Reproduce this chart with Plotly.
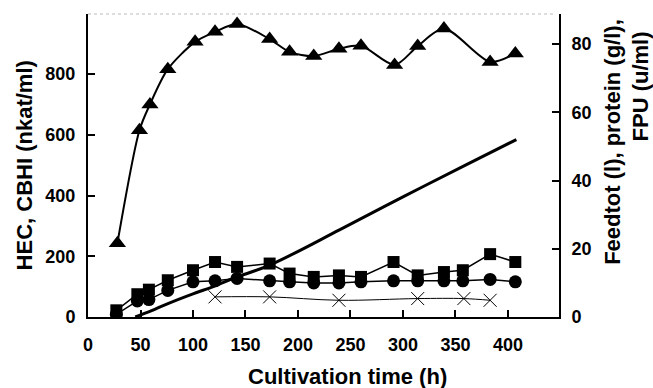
import plotly.graph_objects as go

# HEC (triangles, left axis)
time_hec = [28, 49, 59, 76, 102, 121, 142, 173, 192, 215, 239, 260, 292, 314, 339, 383, 407]
hec = [243, 615, 700, 816, 906, 939, 965, 915, 873, 859, 883, 893, 830, 892, 950, 840, 868]

# CBHI (squares, left axis) and protein (circles, right axis)
time_s = [27, 47, 58, 76, 100, 121, 142, 173, 192, 215, 239, 260, 291, 314, 339, 357, 383, 407]
cbhi = [22, 75, 90, 121, 154, 181, 165, 176, 143, 132, 137, 132, 181, 137, 148, 154, 207, 181]
protein = [0.8, 4.7, 5.1, 7.8, 10.3, 10.6, 11.3, 10.6, 10.3, 10.0, 10.0, 10.3, 10.6, 10.6, 10.6, 10.6, 11.0, 10.3]

# FPU (crosses, right axis)
time_fpu = [121, 173, 239, 314, 358, 383]
fpu = [5.9, 5.9, 4.9, 5.4, 5.4, 4.9]

# Feedtot (thick line, right axis)
time_feed = [45, 60, 75, 100, 120, 140, 173, 240, 300, 360, 408]
feed = [0, 1.8, 3.8, 6.8, 9.0, 11.5, 15.2, 25.6, 35.2, 44.6, 52.0]

x_ticks = [0, 50, 100, 150, 200, 250, 300, 350, 400]
left_ticks = [0, 200, 400, 600, 800]
right_ticks = [0, 20, 40, 60, 80]

FONT = "Liberation Sans, Arial, sans-serif"

fig = go.Figure()
fig.add_trace(go.Scatter(x=time_feed, y=feed, yaxis="y2", mode="lines",
                         line=dict(color="black", width=3, shape="spline"), showlegend=False))
fig.add_trace(go.Scatter(x=time_fpu, y=fpu, yaxis="y2", mode="lines+markers",
                         line=dict(color="black", width=1, shape="spline"),
                         marker=dict(symbol="x-thin-open", size=13, line=dict(color="black", width=1)),
                         showlegend=False))
fig.add_trace(go.Scatter(x=time_s, y=protein, yaxis="y2", mode="lines+markers",
                         line=dict(color="black", width=1.5),
                         marker=dict(symbol="circle", size=13, color="black"), showlegend=False))
fig.add_trace(go.Scatter(x=time_s, y=cbhi, mode="lines+markers",
                         line=dict(color="black", width=1.5),
                         marker=dict(symbol="square", size=12, color="black"), showlegend=False))
fig.add_trace(go.Scatter(x=time_hec, y=hec, mode="lines+markers",
                         line=dict(color="black", width=2, shape="spline", smoothing=0.8),
                         marker=dict(symbol="triangle-up", size=15, color="black"), showlegend=False))

axis_common = dict(showgrid=False, zeroline=False, showline=True, linecolor="black", linewidth=2,
                   ticks="inside", ticklen=7, tickwidth=1.5, tickcolor="black",
                   tickfont=dict(family=FONT, size=18, color="black", weight="bold"))

fig.update_layout(
    width=653, height=388,
    margin=dict(l=88, r=94, t=14, b=71),
    paper_bgcolor="white", plot_bgcolor="white",
    font=dict(family=FONT, color="black", weight="bold"),
    xaxis=dict(range=[0, 448.6], tickvals=x_ticks, ticklabelstandoff=10, **axis_common),
    yaxis=dict(range=[0, 997.7], tickvals=left_ticks, ticklabelstandoff=7, **axis_common),
    yaxis2=dict(range=[0, 88.8], tickvals=right_ticks, overlaying="y", side="right",
                ticklabelstandoff=7, **axis_common),
    annotations=[
        dict(text="HEC, CBHI (nkat/ml)", xref="paper", yref="paper", x=-0.134, y=0.5,
             xanchor="center", yanchor="middle", textangle=-90, showarrow=False,
             font=dict(family=FONT, size=22, color="black", weight="bold")),
        dict(text="Feedtot (l), protein (g/l),<br>FPU (u/ml)&nbsp;&nbsp;", xref="paper", yref="paper",
             x=1.144, y=0.99, xanchor="center", yanchor="top", align="right", textangle=-90,
             showarrow=False, font=dict(family=FONT, size=22, color="black", weight="bold")),
        dict(text="Cultivation time (h)", xref="paper", yref="paper", x=0.552, y=-0.198,
             xanchor="center", yanchor="middle", showarrow=False,
             font=dict(family=FONT, size=22, color="black", weight="bold")),
    ],
    shapes=[dict(type="line", xref="paper", yref="paper", x0=0, x1=0.99, y0=1, y1=1,
                 line=dict(color="#bbbbbb", width=1, dash="dot"))],
)

fig.write_html("out.html", config={"displayModeBar": False},
               post_script="document.body.style.margin='0';")
